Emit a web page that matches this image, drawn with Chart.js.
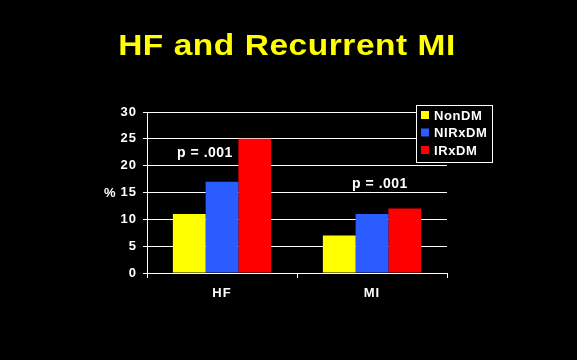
<!DOCTYPE html>
<html>
<head>
<meta charset="utf-8">
<script src="https://cdn.jsdelivr.net/npm/chart.js@4.4.0/dist/chart.umd.min.js"></script>
<style>
html,body{margin:0;padding:0;background:#000;}
#wrap{width:577px;height:360px;position:relative;}
</style>
</head>
<body>
<div id="wrap"><canvas id="c" width="577" height="360"></canvas></div>
<script>
const chartTitle = 'HF and Recurrent MI';
const categories = ['HF', 'MI'];
const seriesNames = ['NonDM', 'NIRxDM', 'IRxDM'];
const nonDM = [11, 7];
const nirxDM = [17, 11];
const irxDM = [25, 12];
const yTicks = [0, 5, 10, 15, 20, 25, 30];
const pLabels = ['p = .001', 'p = .001'];
const pLabelValues = [22.3, 16.6];

const colors = ['#ffff00', '#2a5cff', '#ff0000'];
const FONT = 'Liberation Sans, Arial, sans-serif';

const bg = {
  id: 'bg',
  beforeDraw(chart) {
    const ctx = chart.ctx;
    ctx.save();
    ctx.fillStyle = '#000';
    ctx.fillRect(0, 0, chart.width, chart.height);
    ctx.restore();
    ctx.letterSpacing = '1px';
  }
};

const overlay = {
  id: 'overlay',
  afterDraw(chart) {
    const ctx = chart.ctx;
    const xs = chart.scales.x, ys = chart.scales.y;
    ctx.save();
    // title (horizontally widened like the original slide)
    ctx.save();
    ctx.fillStyle = '#ffff00';
    ctx.font = 'bold 30px ' + FONT;
    ctx.letterSpacing = '0.5px';
    ctx.textAlign = 'center';
    ctx.textBaseline = 'alphabetic';
    ctx.translate(287, 54.5);
    ctx.scale(1.115, 1);
    ctx.fillText(chartTitle, 0, 0);
    ctx.restore();
    // y label
    ctx.letterSpacing = '1px';
    ctx.fillStyle = '#fff';
    ctx.font = 'bold 13px ' + FONT;
    ctx.textAlign = 'left';
    ctx.textBaseline = 'middle';
    ctx.fillText('%', 104, 193);
    // p labels
    ctx.letterSpacing = '0.5px';
    ctx.font = 'bold 14px ' + FONT;
    ctx.textAlign = 'center';
    const offs = [-17, 8];
    pLabels.forEach((t, i) => {
      ctx.fillText(t, xs.getPixelForValue(i) + offs[i], ys.getPixelForValue(pLabelValues[i]));
    });
    // legend
    const lx = 416, ly = 105, lw = 76, lh = 57;
    ctx.fillStyle = '#000';
    ctx.fillRect(lx, ly, lw, lh);
    ctx.strokeStyle = '#fff';
    ctx.lineWidth = 1;
    ctx.strokeRect(lx + 0.5, ly + 0.5, lw, lh);
    ctx.font = 'bold 13px ' + FONT;
    ctx.letterSpacing = '0.6px';
    ctx.textAlign = 'left';
    chart.data.datasets.forEach((ds, i) => {
      const cy = 115 + i * 17.5;
      ctx.fillStyle = ds.backgroundColor;
      ctx.fillRect(421, cy - 4, 8, 8);
      ctx.fillStyle = '#fff';
      ctx.fillText(ds.label, 434, cy + 1);
    });
    ctx.restore();
  }
};

new Chart(document.getElementById('c'), {
  type: 'bar',
  data: {
    labels: categories,
    datasets: [nonDM, nirxDM, irxDM].map((d, i) => ({
      label: seriesNames[i],
      data: d,
      backgroundColor: colors[i],
      borderWidth: 0,
      categoryPercentage: 0.655,
      barPercentage: 1.0
    }))
  },
  options: {
    responsive: false,
    animation: false,
    devicePixelRatio: 1,
    layout: { padding: { left: 105, right: 130, top: 112, bottom: 50 } },
    plugins: {
      legend: { display: false },
      tooltip: { enabled: false },
      title: { display: false }
    },
    scales: {
      x: {
        grid: { display: true, drawOnChartArea: false, color: '#fff', tickLength: 5, offset: true },
        border: { color: '#fff', width: 1 },
        ticks: { color: '#fff', font: { family: FONT, size: 13, weight: 'bold' }, padding: 8 },
        afterFit(s) { s.height = 37; }
      },
      y: {
        min: 0, max: 30,
        afterBuildTicks(s) { s.ticks = yTicks.map(v => ({ value: v })); },
        grid: { color: '#fff', tickLength: 4 },
        border: { color: '#fff', width: 1 },
        ticks: { color: '#fff', font: { family: FONT, size: 13, weight: 'bold' }, padding: 6 },
        afterFit(s) { s.width = 42; }
      }
    }
  },
  plugins: [bg, overlay]
});
</script>
</body>
</html>
